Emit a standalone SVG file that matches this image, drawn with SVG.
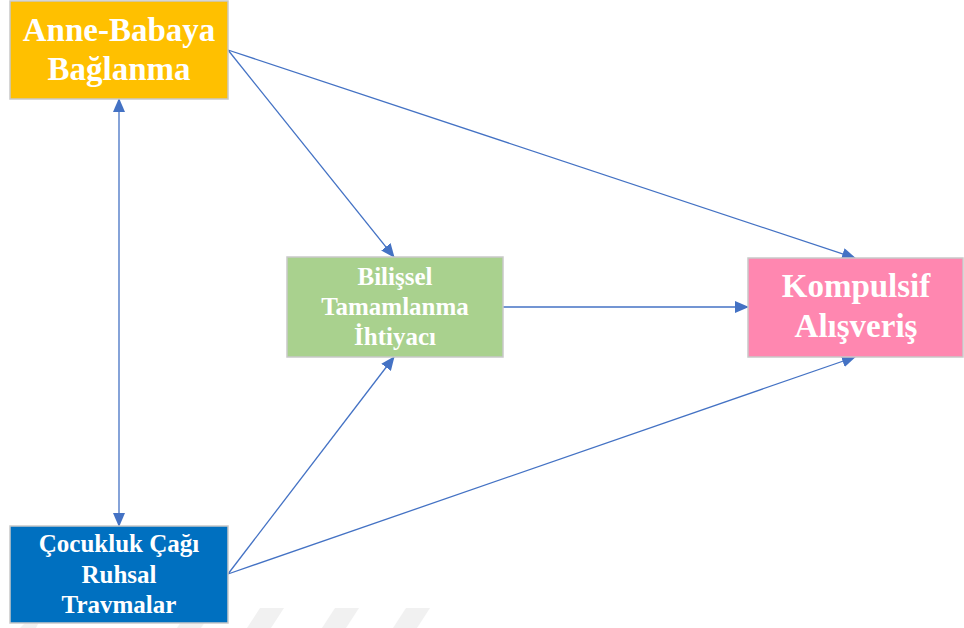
<svg xmlns="http://www.w3.org/2000/svg" width="964" height="628" viewBox="0 0 964 628">
<style>
.box{stroke:#C9C9C9;stroke-width:1.5}
.t{font-family:"Liberation Serif","Times New Roman",serif;font-weight:bold;fill:#FFFFFF;text-anchor:middle}
.big{font-size:33px}
.sm{font-size:25px}
.c{stroke:#4472C4;stroke-width:1.3;fill:none}
.wm{fill:#F1F1F1}
</style>
<defs>
<marker id="ah" markerUnits="userSpaceOnUse" markerWidth="14" markerHeight="12" viewBox="0 0 14 12" refX="13" refY="6" orient="auto-start-reverse">
<path d="M0,0 L14,6 L0,12 Z" fill="#4472C4"/>
</marker>
</defs>
<rect width="964" height="628" fill="#FFFFFF"/>
<g id="watermark">
<polygon class="wm" points="190,608 214,608 201,628 177,628"/>
<polygon class="wm" points="260,608 284,608 271,628 247,628"/>
<polygon class="wm" points="335,608 359,608 346,628 322,628"/>
<polygon class="wm" points="406,608 430,608 417,628 393,628"/>
<polygon class="wm" points="28,620 40,620 36,628 20,628"/>
</g>
<g id="connectors">
<line class="c" x1="228" y1="50" x2="855" y2="258" marker-end="url(#ah)"/>
<line class="c" x1="228" y1="50" x2="394" y2="257" marker-end="url(#ah)"/>
<line class="c" x1="503" y1="307" x2="748" y2="307" marker-end="url(#ah)"/>
<line class="c" x1="228" y1="574" x2="394" y2="357" marker-end="url(#ah)"/>
<line class="c" x1="228" y1="574" x2="855" y2="357" marker-end="url(#ah)"/>
<line class="c" x1="119" y1="99" x2="119" y2="526" marker-start="url(#ah)" marker-end="url(#ah)"/>
</g>
<g id="anne-babaya">
<rect class="box" x="10" y="1" width="218" height="98" fill="#FFC000"/>
<text class="t big" x="119" y="41">Anne-Babaya</text>
<text class="t big" x="119" y="80">Bağlanma</text>
</g>
<g id="bilissel">
<rect class="box" x="287" y="257" width="216" height="100" fill="#A9D18E"/>
<text class="t sm" x="395" y="285">Bilişsel</text>
<text class="t sm" x="395" y="315">Tamamlanma</text>
<text class="t sm" x="395" y="345">İhtiyacı</text>
</g>
<g id="kompulsif">
<rect class="box" x="748" y="258" width="215" height="99" fill="#FF87B0"/>
<text class="t big" x="856" y="297">Kompulsif</text>
<text class="t big" x="856" y="337">Alışveriş</text>
</g>
<g id="cocukluk">
<rect class="box" x="10" y="526" width="218" height="97" fill="#0070C0"/>
<text class="t sm" x="119" y="552">Çocukluk Çağı</text>
<text class="t sm" x="119" y="583">Ruhsal</text>
<text class="t sm" x="119" y="613">Travmalar</text>
</g>
</svg>
